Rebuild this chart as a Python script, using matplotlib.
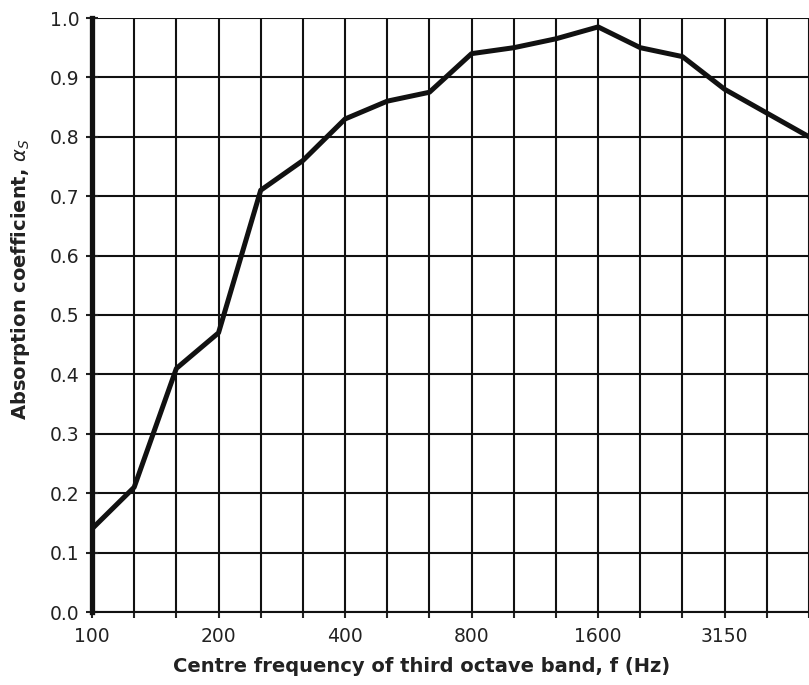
import numpy as np
import matplotlib.pyplot as plt

# Terzband-Mittenfrequenzen und Absorptionsgrad
bands = [100, 125, 160, 200, 250, 315, 400, 500, 630, 800, 1000, 1250,
         1600, 2000, 2500, 3150, 4000, 5000]
alpha = [0.14, 0.21, 0.41, 0.47, 0.71, 0.76, 0.83, 0.86, 0.875, 0.94, 0.95,
         0.965, 0.985, 0.95, 0.935, 0.88, 0.84, 0.80]
labelled = [100, 200, 400, 800, 1600, 3150]

plt.rcParams['font.family'] = 'DejaVu Sans'

fig = plt.figure(figsize=(8.09, 6.85), dpi=100)
ax = fig.add_axes([92 / 809, 1 - 612 / 685, 1 - 92 / 809, 594 / 685])

x = np.arange(len(bands))
ax.plot(x, alpha, color='#111111', lw=3.6, solid_joinstyle='round', zorder=3)

ax.set_xlim(0, 16.77)
ax.set_ylim(0, 1.0)
ax.set_xticks(x)
ax.set_xticklabels([str(b) if b in labelled else '' for b in bands])
ax.set_yticks(np.arange(0, 1.01, 0.1))
ax.set_yticklabels(['%.1f' % v for v in np.arange(0, 1.01, 0.1)])

ax.grid(True, color='#111111', lw=1.5)
for s in ['top', 'right']:
    ax.spines[s].set_visible(False)
ax.spines['left'].set_linewidth(3.8)
ax.spines['left'].set_color('#111111')
ax.spines['bottom'].set_linewidth(1.5)
ax.spines['bottom'].set_color('#111111')
ax.tick_params(axis='y', direction='inout', length=8, width=1.5, labelsize=13.5,
               pad=5, colors='#222222')
ax.tick_params(axis='x', direction='out', length=4, width=1.5, labelsize=13.5,
               pad=7, colors='#222222')

ax.set_xlabel('Centre frequency of third octave band, f (Hz)', fontsize=14,
              fontweight='bold', color='#222222')
ax.set_ylabel(r'Absorption coefficient, $\alpha_S$', fontsize=14,
              fontweight='bold', color='#222222')
# Achsentitel wie im Original (Diagramm rechts abgeschnitten) verschoben
ax.xaxis.set_label_coords(0.46, -0.075)
ax.yaxis.set_label_coords(-0.084, 0.56)

fig.savefig('out.png', dpi=100)
